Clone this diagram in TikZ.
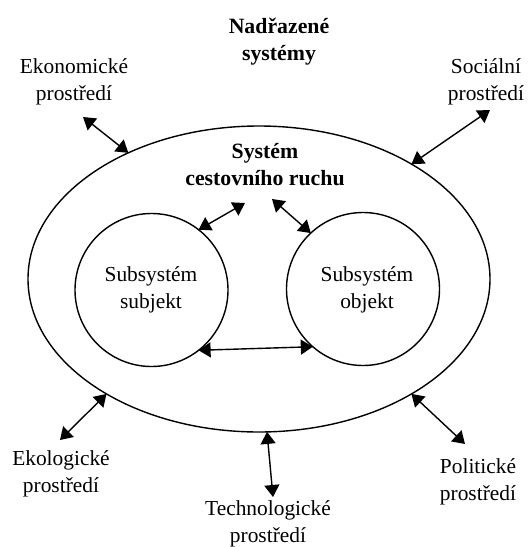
\documentclass[tikz,border=0pt]{standalone}
\usepackage{fontspec}
\setmainfont{Liberation Serif}
\usetikzlibrary{arrows.meta,shapes.geometric}
\tikzset{
  lbl/.style={align=center,anchor=base,inner sep=0pt,font=\fontsize{21.4}{26.5}\selectfont},
  blbl/.style={lbl,font=\fontsize{21.8}{26.5}\selectfont\bfseries},
  ring/.style={draw,line width=1.4pt,outer sep=0pt,inner sep=0pt},
  link/.style={line width=1.4pt,{Triangle[length=12pt,width=15pt]}-{Triangle[length=12pt,width=15pt]}}
}
\begin{document}
\begin{tikzpicture}[x=1pt,y=-1pt]
\useasboundingbox (0,0) rectangle (528,547);
% outer system and subsystems
\node[ring,ellipse,minimum width=462pt,minimum height=306pt] (sys) at (259,279) {};
\node[ring,circle,minimum size=153pt] (subj) at (151.5,290) {};
\node[ring,circle,minimum size=153pt] (obj) at (363,289) {};
% texts (anchor = baseline of the last line)
\node[blbl] (nad) at (279,60) {Nadřazené\\systémy};
\node[blbl] (title) at (265,185) {Systém\\cestovního ruchu};
\node[lbl] (subjt) at (151,308) {Subsystém\\subjekt};
\node[lbl] (objt) at (367,308) {Subsystém\\objekt};
\node[lbl] (eko) at (74,100) {Ekonomické\\prostředí};
\node[lbl] (soc) at (486,100) {Sociální\\prostředí};
\node[lbl] (ekol) at (61,492) {Ekologické\\prostředí};
\node[lbl] (tech) at (268,542) {Technologické\\prostředí};
\node[lbl] (pol) at (478,500) {Politické\\prostředí};
% free ends
\coordinate (ekoE) at (83,117);
\coordinate (socE) at (490,110);
\coordinate (ekolE) at (60,440);
\coordinate (techE) at (273,497);
\coordinate (polE) at (465,444);
\coordinate (sysL) at (245,203);
\coordinate (sysR) at (272,199);
% connectors
\draw[link] (ekoE) -- (sys.136);
\draw[link] (socE) -- (sys.37);
\draw[link] (ekolE) -- (sys.217.5);
\draw[link] (techE) -- (sys.273);
\draw[link] (polE) -- (sys.323.5);
\draw[link] (subj.52) -- (sysL);
\draw[link] (obj.133) -- (sysR);
\draw[link] (subj.-52) -- (obj.-131);
\end{tikzpicture}
\end{document}
